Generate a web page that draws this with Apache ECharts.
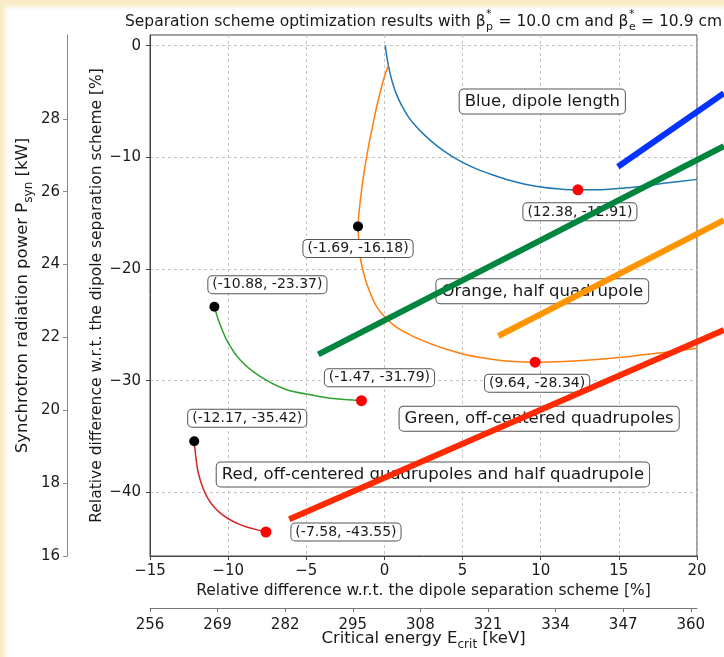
<!DOCTYPE html>
<html>
<head>
<meta charset="utf-8">
<script src="https://cdn.jsdelivr.net/npm/echarts@6/dist/echarts.min.js"></script>
<style>
  html, body { margin: 0; padding: 0; width: 724px; height: 657px; overflow: hidden; background: #f8ebc6; }
  #paper { position: absolute; left: 7px; top: 9px; right: 0; bottom: 0; background: #fff; box-shadow: 0 0 4px 2px #fff; }
  #chart { position: absolute; left: 0; top: 0; width: 724px; height: 657px; }
</style>
</head>
<body>
<div id="paper"></div>
<div id="chart"></div>
<script>
// Scan curves: relative difference w.r.t. the dipole separation scheme [%]
// x = critical energy difference, y = synchrotron power difference
const dipoleLength = [
  [0.05, 0], [0.15, -0.95], [0.25, -1.74], [0.4, -2.7], [0.6, -3.7], [0.8, -4.45],
  [1.1, -5.35], [1.5, -6.3], [2.0, -7.2], [2.6, -8.05], [3.3, -8.9], [4.1, -9.7],
  [5.0, -10.45], [6.0, -11.1], [7.0, -11.6], [8.0, -12.05], [9.0, -12.4], [10.0, -12.65],
  [11.2, -12.83], [12.38, -12.91], [13.6, -12.9], [15.0, -12.78], [16.5, -12.58],
  [18.0, -12.3], [20.0, -11.97]
];
const halfQuadrupole = [
  [0.25, -1.74], [-0.05, -3.0], [-0.29, -4.28], [-0.52, -5.6], [-0.72, -6.96], [-0.95, -8.5],
  [-1.14, -9.95], [-1.32, -11.5], [-1.46, -12.92], [-1.6, -14.6], [-1.69, -16.18],
  [-1.62, -17.8], [-1.52, -19.19], [-1.14, -21.27], [-0.5, -23.36], [0.57, -25.0],
  [1.64, -25.9], [2.7, -26.55], [3.77, -27.1], [5.3, -27.7], [6.97, -28.1], [8.3, -28.28],
  [9.64, -28.34], [11.5, -28.28], [13.36, -28.13], [15.0, -27.93], [16.56, -27.68],
  [18.3, -27.4], [20.0, -27.1]
];
const offCentered = [
  [-10.88, -23.37], [-10.63, -24.55], [-10.1, -26.34], [-9.24, -28.13], [-7.96, -29.62],
  [-6.26, -30.81], [-4.55, -31.3], [-3.27, -31.6], [-1.47, -31.79]
];
const offCenteredHalf = [
  [-12.17, -35.42], [-12.12, -36.18], [-11.91, -38.27], [-11.37, -40.36], [-10.52, -41.84],
  [-9.24, -42.89], [-7.58, -43.55]
];
const nominalPoints = [[-1.69, -16.18], [-10.88, -23.37], [-12.17, -35.42]];
const optimumPoints = [[12.38, -12.91], [9.64, -28.34], [-1.47, -31.79], [-7.58, -43.55]];

// Highlight strokes drawn across the figure (they run past the right spine)
const blueStroke = [[14.94, -10.84], [21.72, -4.26]];
const greenStroke = [[-4.23, -27.64], [21.72, -8.99]];
const orangeStroke = [[7.29, -26.0], [21.72, -15.62]];
const redStroke = [[-6.09, -42.41], [21.72, -25.46]];

// Axis ticks
const relTicksX = [-15, -10, -5, 0, 5, 10, 15, 20];
const relTicksY = [-40, -30, -20, -10, 0];
const energyTicks = [256, 269, 282, 295, 308, 321, 334, 347, 360];
const powerTicks = [16, 18, 20, 22, 24, 26, 28];

const schemeNames = [
  'Blue, dipole length',
  'Orange, half quadrupole',
  'Green, off-centered quadrupoles',
  'Red, off-centered quadrupoles and half quadrupole'
];

// ---- layout / styling ----
const FONT = '"DejaVu Sans", sans-serif';
const schemeNameAnchors = [[10.1, -5.0], [10.1, -22.0], [9.9, -33.4], [3.1, -38.4]];
const nominalLabelOffsets = [[0, 22], [53, -22], [53, -23]];
const optimumLabelOffsets = [[2, 22], [2, 21], [18, -23], [80, 0]];
const PLOT = { left: 150, right: 697, top: 35, bottom: 556 };
const X_RANGE = [-15, 20], Y_RANGE = [-45.7, 0.96];
// x limit of an overlay grid reaching the right edge of the canvas, same scale as the plot
const overlayXMax = X_RANGE[1] + (724 - PLOT.right) * (X_RANGE[1] - X_RANGE[0]) / (PLOT.right - PLOT.left);

const minus = v => (v < 0 ? '\u2212' + Math.abs(v) : String(v));
const coordText = p => '(' + p[0].toFixed(2) + ', ' + p[1].toFixed(2) + ')';

const boxLabel = {
  show: true, position: 'inside', fontFamily: FONT, fontSize: 14, color: '#1a1a1a',
  backgroundColor: '#fff', borderColor: '#555', borderWidth: 1, borderRadius: 4,
  padding: [2, 4, 1, 4], opacity: 1
};

function pointItems(points, offsets) {
  return points.map((p, i) => ({
    value: p,
    label: Object.assign({}, boxLabel, { offset: offsets[i], formatter: coordText(p) })
  }));
}

function curve(data, color) {
  return {
    type: 'line', data: data, showSymbol: false, smooth: 0.3, z: 2,
    lineStyle: { color: color, width: 1.5 }, silent: true
  };
}

function stroke(data, color) {
  return {
    type: 'line', data: data, showSymbol: false, z: 10, silent: true,
    xAxisIndex: 2, yAxisIndex: 2,
    lineStyle: { color: color, width: 6, cap: 'butt' }
  };
}

// Title assembled from pieces so beta can carry stacked super/subscripts
const measureCtx = document.createElement('canvas').getContext('2d');
function textWidth(s, size) { measureCtx.font = size + 'px ' + FONT; return measureCtx.measureText(s).width; }
function buildTitle(cx, cy) {
  const main = 15.5, small = 11;
  const pieces = [
    { t: 'Separation scheme optimization results with \u03b2' },
    { sup: '*', sub: 'p' },
    { t: ' = 10.0 cm and \u03b2' },
    { sup: '*', sub: 'e' },
    { t: ' = 10.9 cm' }
  ];
  const widths = pieces.map(p => p.t ? textWidth(p.t, main)
    : Math.max(textWidth(p.sup, small), textWidth(p.sub, small)) + 1);
  const total = widths.reduce((a, b) => a + b, 0);
  let x = cx - total / 2;
  const els = [];
  pieces.forEach((p, i) => {
    const base = { fontFamily: FONT, fill: '#1a1a1a', textAlign: 'left', textVerticalAlign: 'middle' };
    if (p.t) {
      els.push({ type: 'text', x: x, y: cy, style: Object.assign({ text: p.t, fontSize: main }, base) });
    } else {
      els.push({ type: 'text', x: x + 0.5, y: cy - 7, style: Object.assign({ text: p.sup, fontSize: small }, base) });
      els.push({ type: 'text', x: x + 0.5, y: cy + 6, style: Object.assign({ text: p.sub, fontSize: small }, base) });
    }
    x += widths[i];
  });
  return els;
}

const axisTextColor = '#1a1a1a';
const subRich = {
  n: { fontFamily: FONT, fontSize: 16.5, color: axisTextColor, lineHeight: 24, verticalAlign: 'middle' },
  s: { fontFamily: FONT, fontSize: 12, color: axisTextColor, lineHeight: 12, verticalAlign: 'bottom' }
};
const gridLine = { show: true, lineStyle: { color: '#c4c4c4', type: [3, 3], width: 1 } };

const chart = echarts.init(document.getElementById('chart'), null, { renderer: 'canvas' });
chart.setOption({
  animation: false,
  backgroundColor: 'transparent',
  textStyle: { fontFamily: FONT },
  graphic: { elements: buildTitle((PLOT.left + PLOT.right) / 2, 21.5) },
  grid: [
    {
      left: PLOT.left, right: 724 - PLOT.right, top: PLOT.top, bottom: 657 - PLOT.bottom,
      outerBoundsMode: 'none', containLabel: false,
      show: true, borderColor: '#444', borderWidth: 1, backgroundColor: 'transparent'
    },
    {
      left: PLOT.left, right: 0, top: PLOT.top, bottom: 657 - PLOT.bottom,
      outerBoundsMode: 'none', containLabel: false, show: false
    }
  ],
  xAxis: [
    {
      type: 'value', min: X_RANGE[0], max: X_RANGE[1], position: 'bottom', gridIndex: 0,
      axisLine: { show: true, onZero: false, lineStyle: { color: '#444' } },
      axisTick: { show: true, inside: false, length: 4, customValues: relTicksX, lineStyle: { color: '#444' } },
      axisLabel: { customValues: relTicksX, fontFamily: FONT, fontSize: 15, color: axisTextColor, margin: 8, formatter: minus },
      splitLine: gridLine,
      name: 'Relative difference w.r.t. the dipole separation scheme [%]',
      nameLocation: 'middle', nameGap: 27, nameMoveOverlap: false,
      nameTextStyle: { fontFamily: FONT, fontSize: 15.5, color: axisTextColor }
    },
    {
      type: 'value', min: 256, max: 361.2, position: 'bottom', offset: 52, gridIndex: 0,
      axisLine: { show: true, onZero: false, lineStyle: { color: '#777' } },
      axisTick: { show: true, inside: false, length: 4, customValues: energyTicks, lineStyle: { color: '#777' } },
      axisLabel: { customValues: energyTicks, fontFamily: FONT, fontSize: 15, color: axisTextColor, margin: 10 },
      splitLine: { show: false },
      name: '{n|Critical energy E}{s|crit}{n| [keV]}',
      nameLocation: 'middle', nameGap: 19, nameMoveOverlap: false,
      nameTextStyle: { rich: subRich }
    },
    { type: 'value', gridIndex: 1, min: X_RANGE[0], max: overlayXMax, show: false }
  ],
  yAxis: [
    {
      type: 'value', min: Y_RANGE[0], max: Y_RANGE[1], position: 'left', gridIndex: 0,
      axisLine: { show: true, onZero: false, lineStyle: { color: '#444' } },
      axisTick: { show: true, inside: false, length: 4, customValues: relTicksY, lineStyle: { color: '#444' } },
      axisLabel: { customValues: relTicksY, fontFamily: FONT, fontSize: 15, color: axisTextColor, margin: 9, formatter: minus },
      splitLine: gridLine,
      name: 'Relative difference w.r.t. the dipole separation scheme [%]',
      nameLocation: 'middle', nameGap: 45, nameRotate: 90, nameMoveOverlap: false,
      nameTextStyle: { fontFamily: FONT, fontSize: 15.5, color: axisTextColor }
    },
    {
      type: 'value', min: 16, max: 30.3, position: 'left', offset: PLOT.left - 67, gridIndex: 0,
      axisLine: { show: true, onZero: false, lineStyle: { color: '#888' } },
      axisTick: { show: true, inside: false, length: 4, customValues: powerTicks, lineStyle: { color: '#888' } },
      axisLabel: { customValues: powerTicks, fontFamily: FONT, fontSize: 15, color: axisTextColor, margin: 7 },
      splitLine: { show: false },
      name: '{n|Synchrotron radiation power P}{s|syn}{n| [kW]}',
      nameLocation: 'middle', nameGap: 32, nameRotate: 90, nameMoveOverlap: false,
      nameTextStyle: { rich: subRich }
    },
    { type: 'value', gridIndex: 1, min: Y_RANGE[0], max: Y_RANGE[1], show: false }
  ],
  series: [
    curve(dipoleLength, '#1f77b4'),
    curve(halfQuadrupole, '#ff7f0e'),
    curve(offCentered, '#2ca02c'),
    curve(offCenteredHalf, '#d62728'),
    {
      type: 'scatter', z: 3, symbolSize: 10, silent: true,
      itemStyle: { color: '#000', opacity: 1 },
      data: pointItems(nominalPoints, nominalLabelOffsets)
    },
    {
      type: 'scatter', z: 3, symbolSize: 11, silent: true,
      itemStyle: { color: '#ff0000', opacity: 1 },
      data: pointItems(optimumPoints, optimumLabelOffsets)
    },
    {
      type: 'scatter', z: 3, symbolSize: 0, silent: true,
      itemStyle: { opacity: 1 },
      data: schemeNames.map((name, i) => ({
        value: schemeNameAnchors[i],
        label: Object.assign({}, boxLabel, { fontSize: 16.5, padding: [4, 5, 3, 5], formatter: name })
      }))
    },
    stroke(blueStroke, '#0632ff'),
    stroke(greenStroke, '#00853e'),
    stroke(orangeStroke, '#ff9500'),
    stroke(redStroke, '#ff2a00')
  ]
});
</script>
</body>
</html>
